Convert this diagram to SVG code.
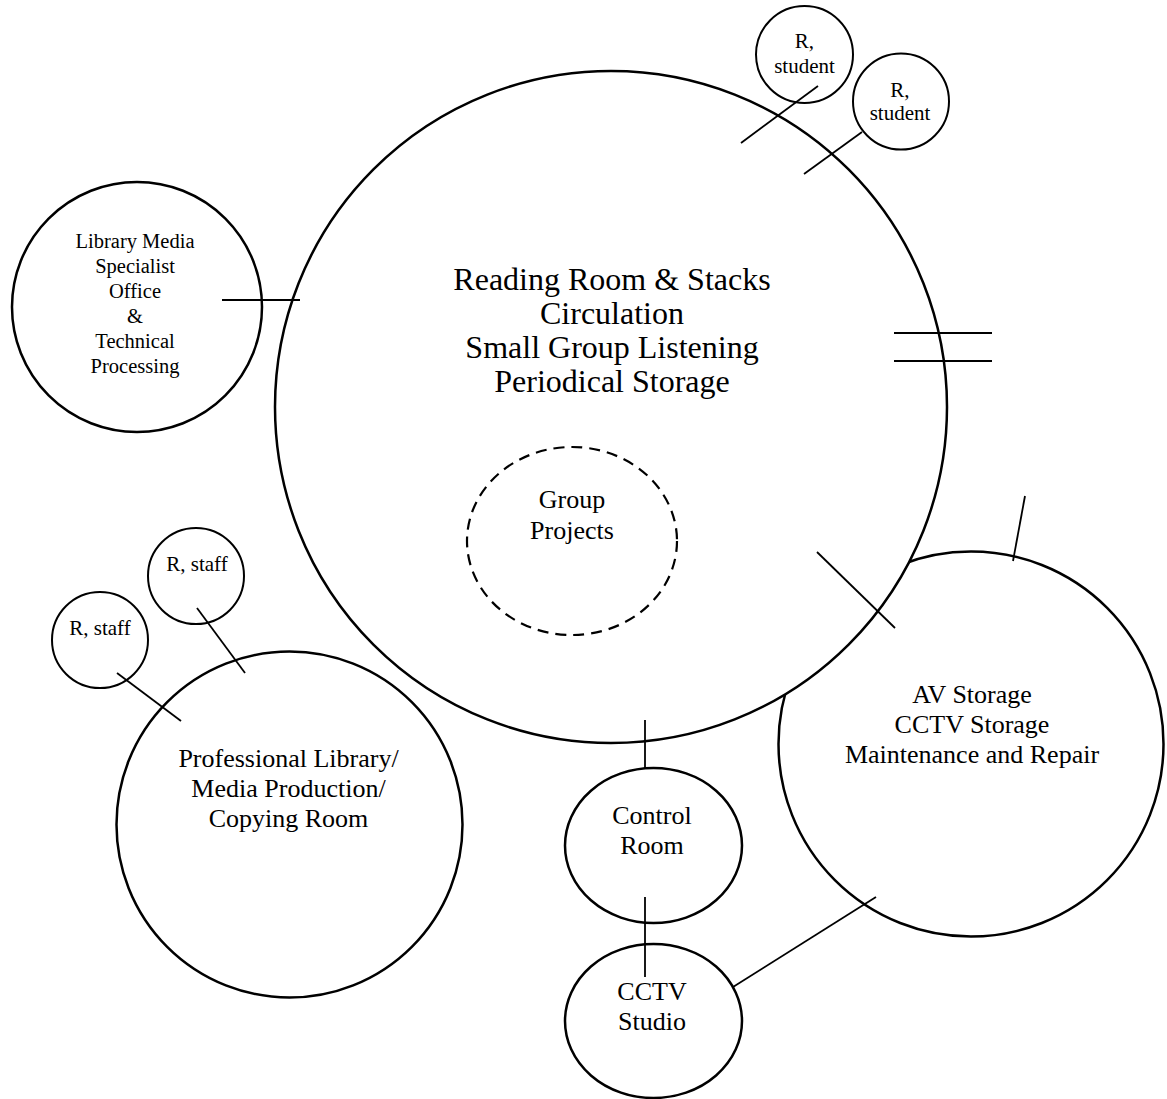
<svg xmlns="http://www.w3.org/2000/svg" width="1167" height="1099" viewBox="0 0 1167 1099">
<style>
  .bg { fill: #ffffff; }
  .big { fill: #ffffff; stroke: #000000; stroke-width: 2.5; }
  .small { fill: #ffffff; stroke: #000000; stroke-width: 2; }
  .dash { fill: none; stroke: #000000; stroke-width: 2.2; stroke-dasharray: 11 7; }
  .conn line { stroke: #000000; stroke-width: 1.8; }
  text { font-family: "Liberation Serif", "Times New Roman", serif; fill: #000000; text-anchor: middle; }
  .t32 { font-size: 32px; }
  .t26 { font-size: 26px; }
  .t21 { font-size: 21px; }
  .t20 { font-size: 20.5px; }
</style>
<rect class="bg" x="0" y="0" width="1167" height="1099"/>

<g id="av-storage">
  <circle class="big" cx="971" cy="744" r="192.5"/>
  <text class="t26" x="972" y="703">AV Storage</text>
  <text class="t26" x="972" y="733">CCTV Storage</text>
  <text class="t26" x="972" y="763">Maintenance and Repair</text>
</g>

<g id="reading-room">
  <circle class="big" cx="611" cy="407" r="336"/>
  <text class="t32" x="612" y="290">Reading Room &amp; Stacks</text>
  <text class="t32" x="612" y="324">Circulation</text>
  <text class="t32" x="612" y="358">Small Group Listening</text>
  <text class="t32" x="612" y="392">Periodical Storage</text>
</g>

<g id="group-projects">
  <ellipse class="dash" cx="572" cy="541" rx="105" ry="94"/>
  <text class="t26" x="572" y="508">Group</text>
  <text class="t26" x="572" y="539">Projects</text>
</g>

<g id="library-media-office">
  <circle class="big" cx="137" cy="307" r="125"/>
  <text class="t20" x="135" y="248">Library Media</text>
  <text class="t20" x="135" y="273">Specialist</text>
  <text class="t20" x="135" y="298">Office</text>
  <text class="t20" x="135" y="323">&amp;</text>
  <text class="t20" x="135" y="348">Technical</text>
  <text class="t20" x="135" y="373">Processing</text>
</g>

<g id="r-student-1">
  <circle class="small" cx="804.5" cy="54.5" r="48.5"/>
  <text class="t21" x="804.5" y="48">R,</text>
  <text class="t21" x="804.5" y="73">student</text>
</g>

<g id="r-student-2">
  <circle class="small" cx="901" cy="101.5" r="48"/>
  <text class="t21" x="900" y="97">R,</text>
  <text class="t21" x="900" y="120">student</text>
</g>

<g id="r-staff-1">
  <circle class="small" cx="196" cy="576" r="48"/>
  <text class="t21" x="197" y="571">R, staff</text>
</g>

<g id="r-staff-2">
  <circle class="small" cx="100" cy="640" r="48"/>
  <text class="t21" x="100" y="635">R, staff</text>
</g>

<g id="professional-library">
  <circle class="big" cx="289.5" cy="824.5" r="173"/>
  <text class="t26" x="288.5" y="767">Professional Library/</text>
  <text class="t26" x="288.5" y="797">Media Production/</text>
  <text class="t26" x="288.5" y="827">Copying Room</text>
</g>

<g id="control-room">
  <ellipse class="big" cx="653.5" cy="845.5" rx="88.5" ry="77.5"/>
  <text class="t26" x="652" y="824">Control</text>
  <text class="t26" x="652" y="854">Room</text>
</g>

<g id="cctv-studio">
  <ellipse class="big" cx="653.5" cy="1021" rx="88.5" ry="77"/>
  <text class="t26" x="652" y="1000">CCTV</text>
  <text class="t26" x="652" y="1030">Studio</text>
</g>

<g id="connectors" class="conn">
  <line x1="222" y1="300" x2="300" y2="300"/>
  <line x1="741" y1="143" x2="818" y2="86"/>
  <line x1="804" y1="174" x2="862" y2="132"/>
  <line x1="894" y1="333" x2="992" y2="333"/>
  <line x1="894" y1="361" x2="992" y2="361"/>
  <line x1="817" y1="552" x2="895" y2="628"/>
  <line x1="1025" y1="496" x2="1013" y2="561"/>
  <line x1="197" y1="608" x2="245" y2="673"/>
  <line x1="117" y1="673" x2="181" y2="721"/>
  <line x1="645" y1="720" x2="645" y2="768"/>
  <line x1="645" y1="897" x2="645" y2="977"/>
  <line x1="733" y1="987" x2="876" y2="897"/>
</g>
</svg>
